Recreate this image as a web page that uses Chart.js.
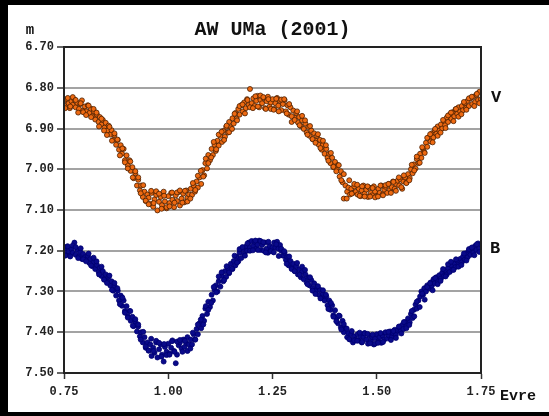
<!DOCTYPE html>
<html lang="en">
<head>
<meta charset="utf-8">
<title>AW UMa (2001)</title>
<script src="https://cdn.jsdelivr.net/npm/chart.js"></script>
<style>
  html, body { margin: 0; padding: 0; background: #fff; }
  #wrap { width: 549px; height: 416px; position: relative; }
</style>
</head>
<body>
<div id="wrap"><canvas id="lc" width="549" height="416"></canvas></div>
<script>
// phase (evre) of each observation, first night, shared by both filters
const phase = [
  0.751,0.754,0.757,0.761,0.764,0.768,0.771,0.775,0.778,0.782,0.786,0.789,0.793,0.796,0.800,
  0.803,0.807,0.811,0.814,0.818,0.822,0.825,0.829,0.833,0.836,0.840,0.843,0.847,0.850,
  0.854,0.857,0.861,0.864,0.868,0.871,0.875,0.879,0.882,0.886,0.889,0.893,0.896,0.900,
  0.903,0.907,0.910,0.914,0.917,0.921,0.925,0.928,0.932,0.935,0.939,0.943,0.946,0.950,
  0.953,0.957,0.960,0.964,0.967,0.971,0.974,0.978,0.982,0.985,0.989,0.992,0.996,1.000,
  1.003,1.007,1.010,1.014,1.018,1.021,1.025,1.028,1.032,1.036,1.039,1.043,1.046,1.050,
  1.054,1.057,1.061,1.064,1.068,1.071,1.075,1.079,1.082,1.086,1.089,1.093,1.096,1.100,
  1.104,1.107,1.111,1.114,1.118,1.121,1.125,1.129,1.132,1.136,1.139,1.143,1.146,1.150,
  1.154,1.157,1.161,1.164,1.168,1.171,1.175,1.179,1.182,1.186,1.189,1.193,1.196,1.200,
  1.204,1.207,1.211,1.214,1.218,1.221,1.225,1.229,1.232,1.236,1.239,1.243,1.246,1.250,
  1.254,1.257,1.261,1.264,1.268,1.271,1.275,1.279,1.282,1.286,1.289,1.293,1.296,1.300,
  1.304,1.307,1.311,1.314,1.318,1.321,1.325,1.329,1.332,1.336,1.339,1.343,1.346,1.350,
  1.354,1.357,1.361,1.364,1.368,1.371,1.375,1.379,1.382,1.386,1.389,1.393,1.396,1.400,
  1.404,1.407,1.411,1.414,1.418,1.421,1.425,1.429,1.432,1.436,1.439,1.443,1.446,1.450,
  1.454,1.457,1.461,1.464,1.468,1.471,1.475,1.479,1.482,1.486,1.489,1.493,1.496,1.500,
  1.504,1.507,1.511,1.514,1.518,1.521,1.525,1.529,1.532,1.536,1.539,1.543,1.546,1.550,
  1.554,1.557,1.561,1.564,1.568,1.571,1.575,1.579,1.582,1.586,1.589,1.593,1.596,1.600,
  1.604,1.607,1.611,1.614,1.618,1.621,1.625,1.629,1.632,1.636,1.639,1.643,1.646,1.650,
  1.654,1.657,1.661,1.664,1.668,1.671,1.675,1.679,1.682,1.686,1.689,1.693,1.696,1.700,
  1.704,1.707,1.711,1.714,1.718,1.721,1.725,1.729,1.732,1.736,1.739,1.743,1.746,1.750
];

const magV = [
  6.832,6.845,6.828,6.838,6.850,6.833,6.842,6.829,6.848,6.837,6.852,6.840,6.831,6.856,6.846,
  6.858,6.843,6.862,6.851,6.870,6.858,6.878,6.866,6.884,6.872,6.890,6.879,6.898,6.886,
  6.905,6.893,6.915,6.904,6.928,6.916,6.940,6.928,6.952,6.941,6.962,6.950,6.978,6.966,
  6.990,6.978,7.004,6.995,7.022,7.010,7.040,7.026,7.052,7.040,7.068,7.055,7.078,7.062,
  7.070,7.085,7.058,7.092,7.074,7.063,7.101,7.080,7.068,7.088,7.055,7.079,7.096,7.066,
  7.083,7.058,7.075,7.093,7.064,7.078,7.056,7.089,7.072,7.060,7.081,7.052,7.070,7.062,
  7.048,7.063,7.040,7.055,7.030,7.045,7.020,7.036,7.002,7.015,6.985,6.998,6.965,6.978,
  6.950,6.965,6.940,6.955,6.930,6.942,6.918,6.933,6.906,6.920,6.896,6.910,6.884,6.897,
  6.875,6.888,6.862,6.876,6.852,6.866,6.843,6.858,6.836,6.850,6.828,6.842,6.803,6.838,
  6.826,6.845,6.832,6.820,6.848,6.830,6.838,6.825,6.850,6.833,6.822,6.846,6.836,6.828,
  6.852,6.838,6.825,6.844,6.832,6.855,6.840,6.830,6.858,6.843,6.866,6.848,6.884,6.856,
  6.874,6.862,6.885,6.872,6.894,6.880,6.901,6.888,6.910,6.896,6.918,6.905,6.926,6.912,
  6.930,6.918,6.940,6.928,6.952,6.940,6.962,6.950,6.972,6.962,6.985,6.972,6.995,6.982,
  7.000,6.990,7.018,7.005,7.032,7.072,7.040,7.055,7.045,7.062,7.048,7.058,7.042,7.055,
  7.062,7.048,7.066,7.052,7.040,7.060,7.050,7.068,7.045,7.058,7.064,7.042,7.055,7.066,
  7.048,7.058,7.040,7.062,7.050,7.043,7.058,7.036,7.050,7.044,7.030,7.048,7.036,7.028,
  7.040,7.025,7.048,7.030,7.020,7.033,7.012,7.022,7.000,7.010,6.988,6.998,6.975,6.985,
  6.962,6.972,6.950,6.958,6.935,6.945,6.922,6.932,6.912,6.922,6.905,6.913,6.895,6.905,
  6.890,6.900,6.882,6.892,6.873,6.884,6.866,6.876,6.860,6.870,6.853,6.864,6.848,6.858,
  6.845,6.855,6.838,6.850,6.832,6.845,6.826,6.840,6.822,6.835,6.818,6.830,6.810,6.828
];

const magB = [
  7.195,7.208,7.190,7.202,7.212,7.196,7.205,7.180,7.210,7.198,7.214,7.203,7.220,7.208,7.216,
  7.222,7.212,7.230,7.220,7.238,7.228,7.245,7.235,7.252,7.242,7.262,7.250,7.270,7.258,
  7.275,7.264,7.285,7.275,7.298,7.286,7.310,7.298,7.322,7.310,7.335,7.322,7.348,7.336,
  7.360,7.348,7.372,7.362,7.385,7.374,7.398,7.386,7.410,7.400,7.425,7.412,7.438,7.425,
  7.445,7.430,7.458,7.438,7.450,7.425,7.462,7.442,7.430,7.455,7.472,7.436,7.448,7.428,
  7.452,7.438,7.420,7.446,7.476,7.455,7.432,7.425,7.440,7.418,7.436,7.426,7.412,7.430,
  7.418,7.430,7.405,7.418,7.392,7.405,7.378,7.390,7.360,7.372,7.342,7.355,7.325,7.338,
  7.308,7.322,7.296,7.285,7.300,7.275,7.288,7.262,7.275,7.250,7.264,7.242,7.255,7.232,
  7.245,7.225,7.236,7.215,7.226,7.205,7.218,7.196,7.208,7.190,7.200,7.180,7.192,7.176,
  7.188,7.178,7.195,7.185,7.175,7.198,7.186,7.200,7.180,7.195,7.205,7.188,7.200,7.192,
  7.180,7.192,7.178,7.195,7.186,7.200,7.212,7.205,7.222,7.215,7.236,7.225,7.242,7.232,
  7.250,7.238,7.258,7.246,7.265,7.252,7.270,7.258,7.278,7.266,7.285,7.272,7.292,7.280,
  7.298,7.288,7.308,7.296,7.316,7.305,7.322,7.312,7.334,7.322,7.345,7.334,7.358,7.346,
  7.365,7.378,7.360,7.388,7.372,7.400,7.390,7.412,7.402,7.418,7.405,7.425,7.410,7.418,
  7.405,7.420,7.410,7.425,7.412,7.402,7.418,7.428,7.408,7.420,7.412,7.430,7.415,7.405,
  7.422,7.412,7.426,7.408,7.418,7.402,7.415,7.408,7.398,7.412,7.402,7.394,7.406,7.396,
  7.388,7.398,7.382,7.392,7.375,7.385,7.366,7.376,7.355,7.365,7.345,7.332,7.342,7.322,
  7.312,7.300,7.308,7.292,7.300,7.285,7.292,7.278,7.286,7.270,7.280,7.265,7.274,7.260,
  7.268,7.254,7.262,7.248,7.258,7.242,7.252,7.236,7.246,7.230,7.240,7.224,7.235,7.220,
  7.228,7.214,7.222,7.206,7.216,7.200,7.210,7.194,7.205,7.188,7.198,7.182,7.195,7.185
];

// second night
const phase2 = [
  0.753,0.759,0.765,0.771, 0.778,0.784,0.790,0.796, 0.803,0.809,0.815,0.821, 0.828,0.834,0.840,0.846,
  0.853,0.859,0.865,0.871, 0.878,0.884,0.890,0.896, 0.903,0.909,0.915,0.921, 0.928,0.934,0.940,0.946,
  0.953,0.959,0.965,0.971, 0.978,0.984,0.990,0.996, 1.003,1.009,1.015,1.021, 1.028,1.034,1.040,1.046,
  1.053,1.059,1.065,1.071, 1.078,1.084,1.090,1.096, 1.103,1.109,1.115,1.121, 1.128,1.134,1.140,1.146,
  1.153,1.159,1.165,1.171, 1.178,1.184,1.190,1.196, 1.203,1.209,1.215,1.221, 1.228,1.234,1.240,1.246,
  1.253,1.259,1.265,1.271, 1.278,1.284,1.290,1.296, 1.303,1.309,1.315,1.321, 1.328,1.334,1.340,1.346,
  1.353,1.359,1.365,1.371, 1.378,1.384,1.390,1.396, 1.403,1.409,1.415,1.421, 1.428,1.434,1.440,1.446,
  1.453,1.459,1.465,1.471, 1.478,1.484,1.490,1.496, 1.503,1.509,1.515,1.521, 1.528,1.534,1.540,1.546,
  1.553,1.559,1.565,1.571, 1.578,1.584,1.590,1.596, 1.603,1.609,1.615,1.621, 1.628,1.634,1.640,1.646,
  1.653,1.659,1.665,1.671, 1.678,1.684,1.690,1.696, 1.703,1.709,1.715,1.721, 1.728,1.734,1.740,1.746
];

const magV2 = [
  6.850,6.825,6.846,6.823, 6.830,6.861,6.838,6.860, 6.867,6.844,6.872,6.852, 6.861,6.895,6.876,6.905,
  6.916,6.896,6.930,6.912, 6.927,6.966,6.949,6.983, 6.998,6.981,7.020,7.005, 7.020,7.059,7.039,7.077,
  7.086,7.053,7.083,7.054, 7.060,7.097,7.065,7.093, 7.091,7.057,7.082,7.057, 7.052,7.082,7.053,7.079,
  7.072,7.034,7.051,7.016, 7.004,7.018,6.974,6.985, 6.971,6.933,6.951,6.915, 6.908,6.928,6.893,6.909,
  6.901,6.864,6.880,6.845, 6.841,6.863,6.830,6.848, 6.850,6.821,6.846,6.819, 6.823,6.852,6.828,6.852,
  6.854,6.827,6.858,6.829, 6.828,6.863,6.840,6.870, 6.879,6.858,6.892,6.869, 6.880,6.915,6.894,6.926,
  6.935,6.914,6.948,6.930, 6.941,6.979,6.960,6.994, 7.005,6.990,7.027,7.012, 7.072,7.027,7.060,7.036,
  7.038,7.065,7.042,7.067, 7.042,7.067,7.046,7.069, 7.067,7.040,7.064,7.039, 7.036,7.058,7.031,7.053,
  7.020,7.044,7.015,7.034, 7.027,6.989,7.003,6.969, 6.984,6.946,6.960,6.923, 6.914,6.934,6.901,6.918,
  6.910,6.879,6.899,6.868, 6.861,6.882,6.852,6.871, 6.865,6.835,6.854,6.826, 6.822,6.845,6.815,6.838
];

const magB2 = [
  7.212,7.189,7.214,7.187, 7.191,7.218,7.194,7.221, 7.226,7.207,7.236,7.217, 7.226,7.258,7.239,7.271,
  7.279,7.261,7.296,7.279, 7.292,7.331,7.315,7.352, 7.364,7.348,7.384,7.368, 7.381,7.418,7.399,7.435,
  7.445,7.416,7.446,7.421, 7.426,7.460,7.429,7.456, 7.455,7.422,7.448,7.423, 7.419,7.448,7.421,7.446,
  7.440,7.401,7.418,7.381, 7.369,7.381,7.336,7.345, 7.328,7.289,7.302,7.263, 7.253,7.272,7.238,7.253,
  7.244,7.212,7.229,7.196, 7.191,7.212,7.182,7.200, 7.199,7.175,7.198,7.176, 7.179,7.204,7.178,7.201,
  7.204,7.184,7.213,7.195, 7.201,7.232,7.214,7.245, 7.250,7.230,7.259,7.239, 7.247,7.282,7.265,7.298,
  7.306,7.287,7.317,7.297, 7.308,7.343,7.328,7.362, 7.373,7.359,7.393,7.380, 7.391,7.417,7.397,7.420,
  7.421,7.401,7.424,7.403, 7.404,7.427,7.406,7.428, 7.426,7.402,7.424,7.400, 7.399,7.419,7.397,7.414,
  7.386,7.403,7.375,7.390, 7.382,7.348,7.361,7.325, 7.338,7.305,7.320,7.289, 7.280,7.297,7.267,7.282,
  7.274,7.245,7.263,7.233, 7.227,7.247,7.221,7.239, 7.235,7.207,7.224,7.196, 7.192,7.211,7.184,7.203
];

const xTicks = [0.75, 1.00, 1.25, 1.50, 1.75];
const yRange = [6.70, 7.50];
const seriesNames = ['V', 'B'];

const FONT = "'Liberation Mono', 'Courier New', monospace";

function pts(xs, ys) {
  return xs.map((p, i) => ({ x: p, y: ys[i] }));
}

// black scan border, plot frame and the loose texts
const decor = {
  id: 'decor',
  beforeDraw(chart) {
    const c = chart.ctx;
    c.save();
    c.fillStyle = '#fff';
    c.fillRect(0, 0, chart.width, chart.height);
    c.restore();
  },
  afterDraw(chart) {
    const c = chart.ctx;
    const a = chart.chartArea;
    const y = chart.scales.y;
    c.save();
    c.strokeStyle = '#222';
    c.lineWidth = 2;
    c.strokeRect(a.left, a.top, a.right - a.left, a.bottom - a.top);
    c.fillStyle = '#000';
    c.fillRect(0, 0, chart.width, 5);
    c.fillRect(0, 0, 8, chart.height);
    c.fillRect(0, chart.height - 4, chart.width, 4);
    c.fillStyle = '#111';
    c.textBaseline = 'middle';
    c.textAlign = 'center';
    c.font = 'bold 20px ' + FONT;
    c.fillText('AW UMa (2001)', (a.left + a.right) / 2, 30);
    c.font = 'bold 14px ' + FONT;
    c.fillText('m', 30, 30);
    c.textAlign = 'left';
    c.font = 'bold 17px ' + FONT;
    c.fillText(seriesNames[0], a.right + 10, y.getPixelForValue(6.825));
    c.fillText(seriesNames[1], a.right + 9, y.getPixelForValue(7.195));
    c.font = 'bold 15px ' + FONT;
    c.fillText('Evre', 500, 396);
    c.restore();
  }
};

new Chart(document.getElementById('lc'), {
  type: 'scatter',
  data: {
    datasets: [
      {
        label: seriesNames[0],
        data: pts(phase, magV).concat(pts(phase2, magV2)),
        backgroundColor: '#ee6a12',
        borderColor: '#4a1e00',
        borderWidth: 0.8,
        pointRadius: 2.5
      },
      {
        label: seriesNames[1],
        data: pts(phase, magB).concat(pts(phase2, magB2)),
        backgroundColor: '#0a0a8a',
        borderColor: '#000070',
        borderWidth: 0.8,
        pointRadius: 2.5
      }
    ]
  },
  options: {
    responsive: false,
    animation: false,
    layout: { padding: { top: 47, right: 68, left: 0, bottom: 0 } },
    plugins: {
      legend: { display: false },
      tooltip: { enabled: false }
    },
    scales: {
      x: {
        type: 'linear',
        min: xTicks[0],
        max: xTicks[xTicks.length - 1],
        afterBuildTicks: s => { s.ticks = xTicks.map(v => ({ value: v })); },
        afterFit: s => { s.height = 43; },
        grid: { drawOnChartArea: false, tickLength: 6, tickColor: '#333', tickWidth: 1.5 },
        border: { color: '#222', width: 2 },
        ticks: {
          color: '#222',
          padding: 6,
          font: { family: FONT, size: 12, weight: 'bold' },
          callback: v => Number(v).toFixed(2)
        }
      },
      y: {
        type: 'linear',
        reverse: true,
        min: yRange[0],
        max: yRange[1],
        afterFit: s => { s.width = 64; },
        grid: { color: '#a3a3a3', lineWidth: 2, tickLength: 7, tickColor: '#333', tickWidth: 1.5 },
        border: { color: '#222', width: 2 },
        ticks: {
          stepSize: 0.1,
          color: '#222',
          padding: 3,
          font: { family: FONT, size: 12, weight: 'bold' },
          callback: v => Number(v).toFixed(2)
        }
      }
    }
  },
  plugins: [decor]
});
</script>
</body>
</html>
